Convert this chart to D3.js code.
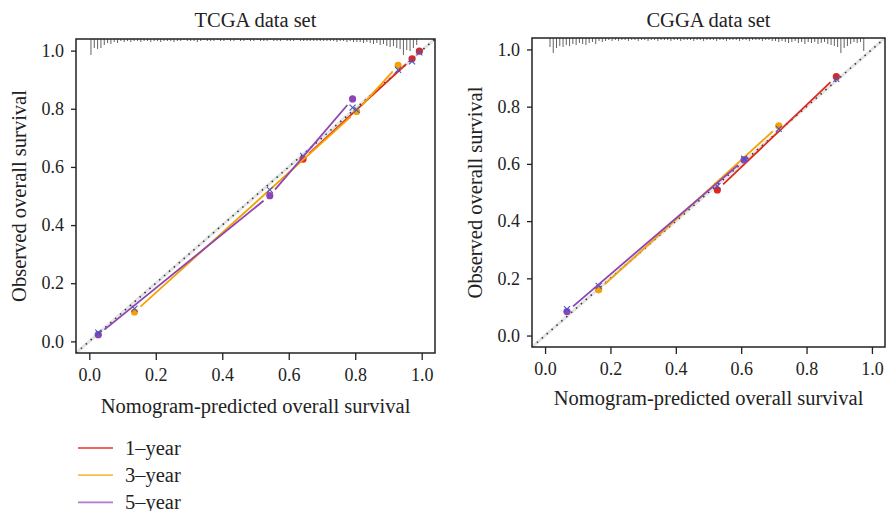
<html>
<head>
<title>Calibration plots</title>
<style>
  body { margin: 0; background: #fff; }
  svg text { font-family: "Liberation Serif", "DejaVu Serif", serif; fill: #222; }
</style>
</head>
<body>
<svg></svg>
<script src="https://d3js.org/d3.v7.min.js"></script>
<script>
// ---- data ----
const seriesNames = ["1\u2013year", "3\u2013year", "5\u2013year"];
const seriesColors = ["#e3261c", "#f5a200", "#8e44b4"];
const tickValues = [0, 0.2, 0.4, 0.6, 0.8, 1.0];

// TCGA: predicted, observed, bias-corrected
const tcga1yPred = [0.643, 0.971, 0.993];
const tcga1yObs  = [0.627, 0.972, 0.998];
const tcga1yCorr = [0.638, 0.963, 0.994];
const tcga3yPred = [0.136, 0.804, 0.929];
const tcga3yObs  = [0.101, 0.791, 0.949];
const tcga3yCorr = [0.113, 0.796, 0.934];
const tcga5yPred = [0.027, 0.543, 0.792];
const tcga5yObs  = [0.023, 0.501, 0.834];
const tcga5yCorr = [0.030, 0.521, 0.804];

// CGGA
const cgga1yPred = [0.527, 0.891];
const cgga1yObs  = [0.509, 0.905];
const cgga1yCorr = [0.522, 0.897];
const cgga3yPred = [0.164, 0.715];
const cgga3yObs  = [0.160, 0.733];
const cgga3yCorr = [0.174, 0.722];
const cgga5yPred = [0.067, 0.609];
const cgga5yObs  = [0.084, 0.614];
const cgga5yCorr = [0.092, 0.618];

// distribution of predictions (counts per 0.01 bin, 0.00 .. 0.99)
const tcgaRug = [16,9,10,9,6,4,5,3,4,2, 3,2,3,2,2,3,2,2,3,2, 2,3,2,2,2,3,2,2,1,2,
                 2,2,3,2,1,2,2,2,1,2, 2,1,2,2,1,2,2,1,2,2, 1,2,2,2,1,2,2,2,1,2,
                 2,2,1,2,2,2,2,2,2,2, 2,2,2,2,3,2,2,3,2,3, 3,3,4,3,4,5,4,6,5,7,
                 8,7,9,10,16,11,12,9,6,0];
const cggaRug = [0,9,15,10,8,9,7,8,6,7, 5,6,7,5,4,6,3,4,3,2, 3,2,3,2,2,3,2,2,3,2,
                 2,3,2,2,3,2,2,2,3,2, 2,3,2,2,2,3,2,2,3,2, 2,2,3,2,2,3,2,2,2,3,
                 2,2,3,2,2,2,3,2,2,3, 3,4,3,4,5,4,3,5,4,6, 4,5,4,6,5,4,6,7,8,9,
                 15,10,8,6,4,5,4,13,0,0];

const width = 888, height = 511;
const svg = d3.select("svg").attr("width", width).attr("height", height);
const labelSize = 20.5;

function drawPanel(opt) {
  const x = d3.scaleLinear().domain([-0.04, 1.04]).range([opt.left, opt.right]);
  const y = d3.scaleLinear().domain([-0.04, 1.04]).range([opt.bottom, opt.top]);
  const g = svg.append("g");

  const clipId = "clip-" + opt.id;
  g.append("clipPath").attr("id", clipId).append("rect")
    .attr("x", opt.left).attr("y", opt.top)
    .attr("width", opt.right - opt.left).attr("height", opt.bottom - opt.top);
  const plot = g.append("g").attr("clip-path", "url(#" + clipId + ")");

  // ideal line
  plot.append("line")
    .attr("x1", x(-0.04)).attr("y1", y(-0.04)).attr("x2", x(1.04)).attr("y2", y(1.04))
    .attr("stroke", "#e4e4e4").attr("stroke-width", 3);
  plot.append("line")
    .attr("x1", x(-0.04)).attr("y1", y(-0.04)).attr("x2", x(1.04)).attr("y2", y(1.04))
    .attr("stroke", "#2f3d3b").attr("stroke-width", 1.6).attr("stroke-dasharray", "1.5,5");

  // rug of predictions along the top
  const len = d3.scaleLinear().domain([0, 16]).range([0, 16]);
  plot.append("g").selectAll("line")
    .data(opt.rug.map((c, i) => ({ v: i / 100 + 0.005, c: c })).filter(d => d.c > 0))
    .join("line")
    .attr("x1", d => x(d.v)).attr("x2", d => x(d.v))
    .attr("y1", opt.top).attr("y2", d => opt.top + len(d.c))
    .attr("stroke", "#3a3a3a").attr("stroke-width", 0.8);

  // series: lines with gaps around points (type "b")
  const gap = 8;
  opt.series.forEach((s, k) => {
    const pts = s.pred.map((p, i) => [x(p), y(s.obs[i])]);
    for (let i = 0; i < pts.length - 1; i++) {
      const [x1, y1] = pts[i], [x2, y2] = pts[i + 1];
      const dx = x2 - x1, dy = y2 - y1, d = Math.hypot(dx, dy);
      if (d <= 2 * gap) continue;
      plot.append("line")
        .attr("x1", x1 + dx / d * gap).attr("y1", y1 + dy / d * gap)
        .attr("x2", x2 - dx / d * gap).attr("y2", y2 - dy / d * gap)
        .attr("stroke", seriesColors[k]).attr("stroke-width", 1.8);
    }
    plot.append("g").selectAll("circle").data(pts).join("circle")
      .attr("cx", d => d[0]).attr("cy", d => d[1]).attr("r", 3.6)
      .attr("fill", seriesColors[k]);
    // bias-corrected estimates
    plot.append("g").selectAll("path").data(s.pred.map((p, i) => [x(p), y(s.corr[i])]))
      .join("path")
      .attr("d", d => `M${d[0]-3},${d[1]-3}L${d[0]+3},${d[1]+3}M${d[0]-3},${d[1]+3}L${d[0]+3},${d[1]-3}`)
      .attr("stroke", "#4655c4").attr("stroke-width", 1.1).attr("fill", "none");
  });

  // frame
  g.append("rect")
    .attr("x", opt.left).attr("y", opt.top)
    .attr("width", opt.right - opt.left).attr("height", opt.bottom - opt.top)
    .attr("fill", "none").attr("stroke", "#222").attr("stroke-width", 1.5);

  // axes
  const xAxis = g.append("g").attr("transform", `translate(0,${opt.bottom})`)
    .call(d3.axisBottom(x).tickValues(tickValues).tickFormat(d3.format(".1f")).tickSize(7).tickPadding(8));
  const yAxis = g.append("g").attr("transform", `translate(${opt.left},0)`)
    .call(d3.axisLeft(y).tickValues(tickValues).tickFormat(d3.format(".1f")).tickSize(5).tickPadding(7));
  [xAxis, yAxis].forEach(a => {
    a.select(".domain").remove();
    a.selectAll(".tick line").attr("stroke", "#222").attr("stroke-width", 1.3);
    a.selectAll(".tick text").attr("font-size", 18).attr("fill", "#222")
      .style("font-family", "'Liberation Serif', serif");
  });

  // titles
  g.append("text").attr("x", (opt.left + opt.right) / 2).attr("y", 27)
    .attr("text-anchor", "middle").attr("font-size", labelSize).text(opt.title);
  g.append("text").attr("x", (opt.left + opt.right) / 2).attr("y", opt.bottom + opt.xTitleGap)
    .attr("text-anchor", "middle").attr("font-size", labelSize).text("Nomogram-predicted overall survival");
  g.append("text")
    .attr("transform", `translate(${opt.left - 50},${(opt.top + opt.bottom) / 2}) rotate(-90)`)
    .attr("text-anchor", "middle").attr("font-size", labelSize).text("Observed overall survival");
}

drawPanel({
  id: "tcga", title: "TCGA data set", left: 76, right: 435, top: 39, bottom: 353, xTitleGap: 60, rug: tcgaRug,
  series: [
    { pred: tcga1yPred, obs: tcga1yObs, corr: tcga1yCorr },
    { pred: tcga3yPred, obs: tcga3yObs, corr: tcga3yCorr },
    { pred: tcga5yPred, obs: tcga5yObs, corr: tcga5yCorr }
  ]
});
drawPanel({
  id: "cgga", title: "CGGA data set", left: 532, right: 885, top: 38, bottom: 347, xTitleGap: 58, rug: cggaRug,
  series: [
    { pred: cgga1yPred, obs: cgga1yObs, corr: cgga1yCorr },
    { pred: cgga3yPred, obs: cgga3yObs, corr: cgga3yCorr },
    { pred: cgga5yPred, obs: cgga5yObs, corr: cgga5yCorr }
  ]
});

// legend
const legend = svg.append("g").attr("transform", "translate(78,448)");
const item = legend.selectAll("g").data(seriesNames).join("g")
  .attr("transform", (d, i) => `translate(0,${i * 27.2})`);
item.append("line").attr("x1", 0).attr("x2", 35)
  .attr("stroke", (d, i) => seriesColors[i]).attr("stroke-opacity", 0.7).attr("stroke-width", 1.8);
item.append("text").attr("x", 47).attr("y", 7).attr("font-size", labelSize).text(d => d);
</script>
</body>
</html>
